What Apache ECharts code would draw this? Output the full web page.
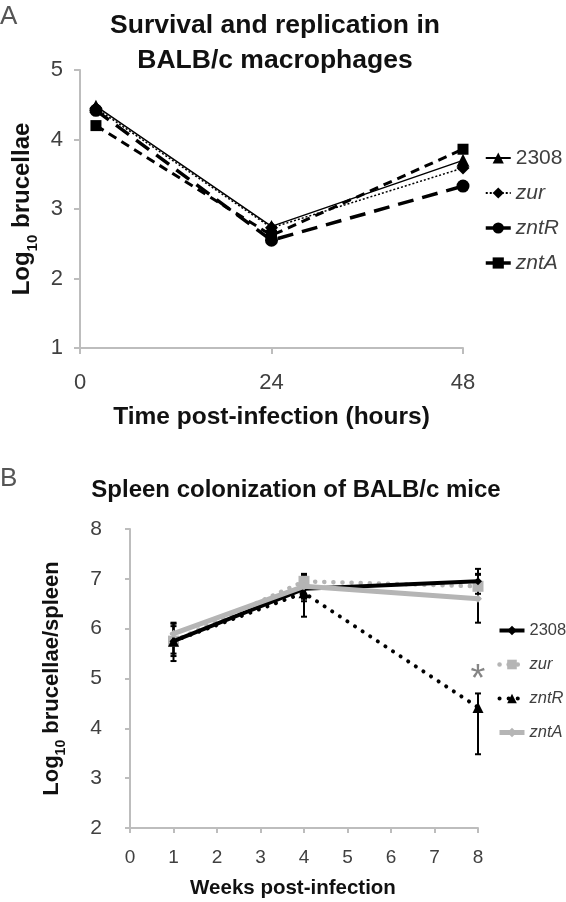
<!DOCTYPE html>
<html>
<head>
<meta charset="utf-8">
<script src="https://cdn.jsdelivr.net/npm/echarts@6/dist/echarts.min.js"></script>
<style>
html,body{margin:0;padding:0;background:#fff;}
#c{width:566px;height:902px;}
</style>
</head>
<body>
<div id="c"></div>
<script>
// ---------- Panel A data ----------
const hoursA = [2, 24, 48];
const a2308 = [4.48, 2.75, 3.70];
const aZur  = [4.45, 2.73, 3.59];
const aZntR = [4.42, 2.55, 3.33];
const aZntA = [4.20, 2.62, 3.86];
const xTicksA = [0, 24, 48];

// ---------- Panel B data ----------
const weeksB = [1, 4, 8];
const b2308 = [5.75, 6.80, 6.95];
const bZur  = [5.75, 6.95, 6.85];
const bZntR = [5.75, 6.72, 4.42];
const bZntA = [5.90, 6.85, 6.60];
// error bars: [low, high] per week
const e2308 = [[5.45, 6.05], [6.55, 7.05], [6.70, 7.20]];
const eZur  = [[5.50, 5.90], [6.80, 7.10], [6.60, 7.10]];
const eZntR = [[5.35, 6.12], [6.24, 7.08], [3.48, 4.70]];
const eZntA = [[5.70, 6.10], [6.60, 7.00], [6.12, 7.08]];
const asterisk = [8, 5.1];

const FONT = "'Liberation Sans', Arial, sans-serif";
const AXC = '#bdbdbd';
const TXT = '#404040';
const GRAY = '#b5b5b5';

function pairs(xs, ys) { return xs.map((x, i) => [x, ys[i]]); }
function errData(xs, e) { return xs.map((x, i) => [x, e[i][0], e[i][1]]); }

const chart = echarts.init(document.getElementById('c'), null, {renderer: 'canvas'});

function errSeries(name, xs, e, color) {
  return {
    type: 'custom', name: name, xAxisIndex: 1, yAxisIndex: 1, z: 1,
    data: errData(xs, e),
    renderItem: function (params, api) {
      const x = api.value(0);
      const lo = api.coord([x, api.value(1)]);
      const hi = api.coord([x, api.value(2)]);
      const w = 3;
      const st = {stroke: color, lineWidth: 2};
      return {type: 'group', children: [
        {type: 'line', shape: {x1: lo[0], y1: lo[1], x2: hi[0], y2: hi[1]}, style: st},
        {type: 'line', shape: {x1: lo[0] - w, y1: lo[1], x2: lo[0] + w, y2: lo[1]}, style: st},
        {type: 'line', shape: {x1: hi[0] - w, y1: hi[1], x2: hi[0] + w, y2: hi[1]}, style: st}
      ]};
    }
  };
}

const yNameRich = {
  b: {fontFamily: FONT, fontWeight: 'bold', fontSize: 24, color: '#111', lineHeight: 28, verticalAlign: 'middle'},
  s: {fontFamily: FONT, fontWeight: 'bold', fontSize: 15, color: '#111', lineHeight: 34, verticalAlign: 'bottom'}
};
const yNameRichB = {
  b: {fontFamily: FONT, fontWeight: 'bold', fontSize: 22, color: '#111', lineHeight: 26, verticalAlign: 'middle'},
  s: {fontFamily: FONT, fontWeight: 'bold', fontSize: 14, color: '#111', lineHeight: 32, verticalAlign: 'bottom'}
};

const legendTextA = {fontFamily: FONT, fontSize: 21, color: TXT};
const legendTextB = {fontFamily: FONT, fontSize: 16.5, color: TXT};

const option = {
  animation: false,
  backgroundColor: '#fff',
  graphic: [
    {type: 'text', left: 0, top: 4, style: {text: 'A', font: '26px ' + FONT, fill: '#555'}},
    {type: 'text', left: 0, top: 466, style: {text: 'B', font: '26px ' + FONT, fill: '#555'}},
    {type: 'text', x: 275, y: 26, style: {text: 'Survival and replication in', font: 'bold 26.5px ' + FONT, fill: '#111', textAlign: 'center', textVerticalAlign: 'middle'}},
    {type: 'text', x: 275, y: 61, style: {text: 'BALB/c macrophages', font: 'bold 26.5px ' + FONT, fill: '#111', textAlign: 'center', textVerticalAlign: 'middle'}},
    {type: 'text', x: 296, y: 490, style: {text: 'Spleen colonization of BALB/c mice', font: 'bold 24px ' + FONT, fill: '#111', textAlign: 'center', textVerticalAlign: 'middle'}}
  ],
  grid: [
    {left: 80, top: 70, width: 383, height: 278},
    {left: 130, top: 529, width: 348, height: 299}
  ],
  xAxis: [
    {
      gridIndex: 0, type: 'value', min: xTicksA[0], max: xTicksA[xTicksA.length - 1], interval: 24,
      splitLine: {show: false},
      axisLine: {lineStyle: {color: AXC, width: 2}},
      axisTick: {show: true, length: 6, lineStyle: {color: AXC, width: 2}},
      axisLabel: {margin: 24, fontSize: 22, color: TXT, fontFamily: FONT},
      name: 'Time post-infection (hours)', nameLocation: 'middle', nameGap: 57,
      nameTextStyle: {fontFamily: FONT, fontWeight: 'bold', fontSize: 24.5, color: '#111'}
    },
    {
      gridIndex: 1, type: 'value', min: 0, max: 8, interval: 1,
      splitLine: {show: false},
      axisLine: {lineStyle: {color: AXC, width: 2}},
      axisTick: {show: true, length: 5, lineStyle: {color: AXC, width: 2}},
      axisLabel: {margin: 20, fontSize: 19, color: TXT, fontFamily: FONT},
      name: 'Weeks post-infection', nameLocation: 'middle', nameGap: 50,
      nameTextStyle: {fontFamily: FONT, fontWeight: 'bold', fontSize: 20.5, color: '#111', padding: [0, 22, 0, 0]}
    }
  ],
  yAxis: [
    {
      gridIndex: 0, type: 'value', min: 1, max: 5, interval: 1,
      splitLine: {show: false},
      axisLine: {show: true, lineStyle: {color: AXC, width: 2}},
      axisTick: {show: true, length: 6, lineStyle: {color: AXC, width: 2}},
      axisLabel: {margin: 17, fontSize: 22, color: TXT, fontFamily: FONT},
      name: '{b|Log}{s|10}{b| brucellae}', nameLocation: 'middle', nameGap: 31,
      nameTextStyle: {rich: yNameRich}
    },
    {
      gridIndex: 1, type: 'value', min: 2, max: 8, interval: 1,
      splitLine: {show: false},
      axisLine: {show: true, lineStyle: {color: AXC, width: 2}},
      axisTick: {show: true, length: 5, lineStyle: {color: AXC, width: 2}},
      axisLabel: {margin: 28, fontSize: 21, color: TXT, fontFamily: FONT},
      name: '{b|Log}{s|10}{b| brucellae/spleen}', nameLocation: 'middle', nameGap: 62,
      nameTextStyle: {rich: yNameRichB}
    }
  ],
  legend: [
    {
      orient: 'vertical', left: 479, top: 141, itemWidth: 25, itemHeight: 14, itemGap: 11,
      data: [
        {name: '2308', lineStyle: {width: 2}},
        {name: 'zur', lineStyle: {width: 2}},
        {name: 'zntR', lineStyle: {width: 3.5, type: 'solid'}},
        {name: 'zntA', lineStyle: {width: 3.5, type: 'solid'}}
      ],
      formatter: n => n === '2308' ? '{n|2308}' : '{i|' + n + '}',
      textStyle: {fontFamily: FONT, fontSize: 21, color: TXT, lineHeight: 24,
        rich: {n: legendTextA, i: Object.assign({fontStyle: 'italic'}, legendTextA)}}
    },
    {
      orient: 'vertical', left: 492, top: 615, itemWidth: 25, itemHeight: 12, itemGap: 13,
      data: [
        {name: '2308 ', lineStyle: {width: 4}},
        {name: 'zur ', lineStyle: {width: 4.5, type: [0.1, 9], cap: 'round'}},
        {name: 'zntR ', lineStyle: {width: 4, type: [0.1, 9], cap: 'round'}},
        {name: 'zntA ', lineStyle: {width: 5}}
      ],
      formatter: n => n.trim() === '2308' ? '{n|2308}' : '{i|' + n.trim() + '}',
      textStyle: {fontFamily: FONT, fontSize: 16.5, color: TXT, lineHeight: 21,
        rich: {n: legendTextB, i: Object.assign({fontStyle: 'italic'}, legendTextB)}}
    }
  ],
  series: [
    // ----- Panel A -----
    {name: '2308', type: 'line', xAxisIndex: 0, yAxisIndex: 0, data: pairs(hoursA, a2308),
      symbol: 'triangle', symbolSize: 13, itemStyle: {color: '#000'}, lineStyle: {color: '#000', width: 1.5, type: 'solid'}},
    {name: 'zur', type: 'line', xAxisIndex: 0, yAxisIndex: 0, data: pairs(hoursA, aZur),
      symbol: 'diamond', symbolSize: 13, itemStyle: {color: '#000'}, lineStyle: {color: '#000', width: 1.5, type: [2, 2]}},
    {name: 'zntR', type: 'line', xAxisIndex: 0, yAxisIndex: 0, data: pairs(hoursA, aZntR),
      symbol: 'circle', symbolSize: 13, itemStyle: {color: '#000'}, lineStyle: {color: '#000', width: 3.5, type: [16, 9]}},
    {name: 'zntA', type: 'line', xAxisIndex: 0, yAxisIndex: 0, data: pairs(hoursA, aZntA),
      symbol: 'rect', symbolSize: 11, itemStyle: {color: '#000'}, lineStyle: {color: '#000', width: 3, type: [9, 6]}},
    // ----- Panel B error bars -----
    errSeries('err2308', weeksB, e2308, '#000'),
    errSeries('errZur', weeksB, eZur, '#000'),
    errSeries('errZntR', weeksB, eZntR, '#000'),
    errSeries('errZntA', weeksB, eZntA, '#000'),
    // ----- Panel B lines -----
    {name: 'zur ', type: 'line', xAxisIndex: 1, yAxisIndex: 1, data: pairs(weeksB, bZur), z: 3,
      symbol: 'rect', symbolSize: 11, itemStyle: {color: GRAY}, lineStyle: {color: GRAY, width: 4.5, type: [0.1, 9], cap: 'round'}},
    {name: '2308 ', type: 'line', xAxisIndex: 1, yAxisIndex: 1, data: pairs(weeksB, b2308), z: 4,
      symbol: 'diamond', symbolSize: 8, itemStyle: {color: '#000'}, lineStyle: {color: '#000', width: 4}},
    {name: 'zntR ', type: 'line', xAxisIndex: 1, yAxisIndex: 1, data: pairs(weeksB, bZntR), z: 5,
      symbol: 'triangle', symbolSize: 11, itemStyle: {color: '#000'}, lineStyle: {color: '#000', width: 4, type: [0.1, 9], cap: 'round'}},
    {name: 'zntA ', type: 'line', xAxisIndex: 1, yAxisIndex: 1, data: pairs(weeksB, bZntA), z: 6,
      symbol: 'diamond', symbolSize: 8, itemStyle: {color: GRAY}, lineStyle: {color: GRAY, width: 5}},
    {name: 'sig', type: 'scatter', xAxisIndex: 1, yAxisIndex: 1, data: [asterisk], symbolSize: 1,
      itemStyle: {color: 'rgba(0,0,0,0)'},
      label: {show: true, position: 'inside', formatter: '*', fontFamily: FONT, fontSize: 38, color: '#666', offset: [0, 7]}}
  ]
};
chart.setOption(option);
</script>
</body>
</html>
